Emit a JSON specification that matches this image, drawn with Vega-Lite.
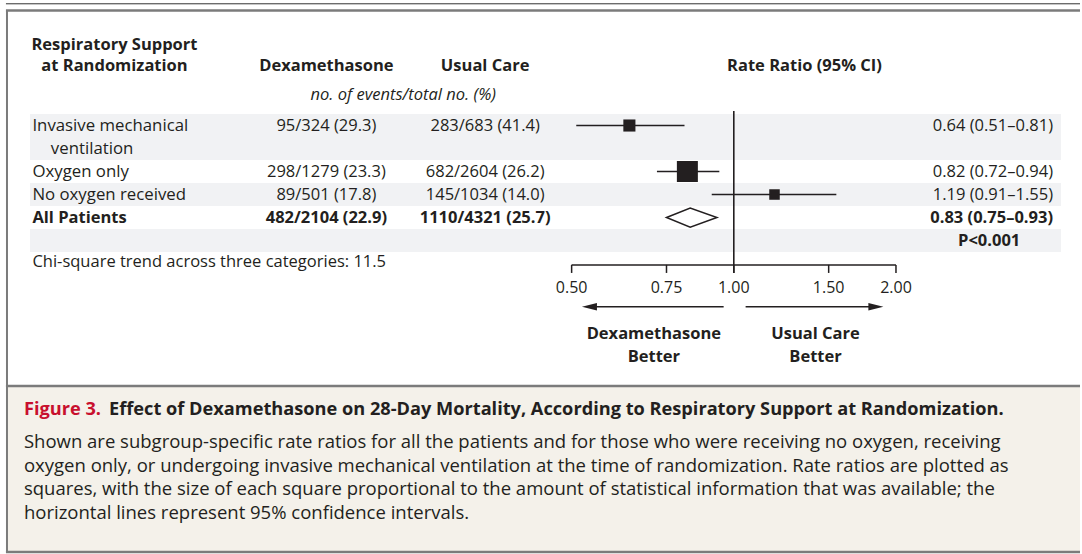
{
  "$schema": "https://vega.github.io/schema/vega-lite/v6.json",
  "width": 1082,
  "height": 554,
  "autosize": {"type": "fit", "contains": "padding"},
  "padding": 0,
  "background": "white",
  "config": {"view": {"stroke": null}, "text": {"font": "Open Sans", "fill": "#231f20"}},
  "datasets": {
    "subgroups": [
      {"group": "Invasive mechanical ventilation", "label": "Invasive mechanical", "label2": "ventilation", "line": 5, "line2": 6, "dex": "95/324 (29.3)", "usual": "283/683 (41.4)", "rr": "0.64 (0.51–0.81)", "est": 0.64, "lo": 0.51, "hi": 0.81, "info": 71.8, "overall": false},
      {"group": "Oxygen only", "label": "Oxygen only", "line": 7, "dex": "298/1279 (23.3)", "usual": "682/2604 (26.2)", "rr": "0.82 (0.72–0.94)", "est": 0.82, "lo": 0.72, "hi": 0.94, "info": 216.3, "overall": false},
      {"group": "No oxygen received", "label": "No oxygen received", "line": 8, "dex": "89/501 (17.8)", "usual": "145/1034 (14.0)", "rr": "1.19 (0.91–1.55)", "est": 1.19, "lo": 0.91, "hi": 1.55, "info": 54.2, "overall": false},
      {"group": "All Patients", "label": "All Patients", "line": 9, "dex": "482/2104 (22.9)", "usual": "1110/4321 (25.7)", "rr": "0.83 (0.75–0.93)", "est": 0.83, "lo": 0.75, "hi": 0.93, "overall": true, "p": "P<0.001", "pline": 10}
    ],
    "ticks": [
      {"v": 0.5, "label": "0.50"},
      {"v": 0.75, "label": "0.75"},
      {"v": 1, "label": "1.00"},
      {"v": 1.5, "label": "1.50"},
      {"v": 2, "label": "2.00"}
    ],
    "bands": [
      {"from": 4.5, "to": 6.5},
      {"from": 7.5, "to": 8.5},
      {"from": 9.5, "to": 10.5}
    ],
    "caption": [
      {"line": 18.78, "text": "Shown are subgroup-specific rate ratios for all the patients and for those who were receiving no oxygen, receiving\noxygen only, or undergoing invasive mechanical ventilation at the time of randomization. Rate ratios are plotted as\nsquares, with the size of each square proportional to the amount of statistical information that was available; the\nhorizontal lines represent 95% confidence intervals."}
    ]
  },
  "resolve": {"scale": {"x": "independent"}},
  "layer": [
    {
      "layer": [
        {
          "data": {"values": [{"part": "caption panel", "top": 16.33, "bottom": 23.55}]},
          "mark": {"type": "rect", "fill": "#f4f1ea"},
          "encoding": {
            "x": {"datum": 0.74, "type": "quantitative", "scale": {"domain": [0, 100], "nice": false, "zero": false}, "axis": null},
            "x2": {"datum": 100},
            "y": {"field": "top", "type": "quantitative", "scale": {"domain": [-0.457, 23.63], "nice": false, "zero": false, "reverse": true}, "axis": null},
            "y2": {"field": "bottom"}
          }
        },
        {
          "data": {"name": "bands"},
          "mark": {"type": "rect", "fill": "#f1f2f4"},
          "encoding": {
            "x": {"datum": 2.773, "type": "quantitative", "scale": {"domain": [0, 100], "nice": false, "zero": false}, "axis": null},
            "x2": {"datum": 98.244},
            "y": {"field": "from", "type": "quantitative", "scale": {"domain": [-0.457, 23.63], "nice": false, "zero": false, "reverse": true}, "axis": null},
            "y2": {"field": "to"}
          }
        },
        {
          "data": {"values": [{"part": "top rule", "at": -0.292}]},
          "mark": {"type": "rule", "stroke": "#333333", "strokeWidth": 1},
          "encoding": {
            "x": {"datum": 0.55, "type": "quantitative", "scale": {"domain": [0, 100], "nice": false, "zero": false}, "axis": null},
            "x2": {"datum": 100},
            "y": {"field": "at", "type": "quantitative", "scale": {"domain": [-0.457, 23.63], "nice": false, "zero": false, "reverse": true}, "axis": null}
          }
        },
        {
          "data": {"values": [{"part": "frame top", "at": 0.0}, {"part": "caption separator", "at": 16.33}, {"part": "frame bottom", "at": 23.54}]},
          "mark": {"type": "rule", "stroke": "#7b7b7b", "strokeWidth": 2.5},
          "encoding": {
            "x": {"datum": 0.55, "type": "quantitative", "scale": {"domain": [0, 100], "nice": false, "zero": false}, "axis": null},
            "x2": {"datum": 100},
            "y": {"field": "at", "type": "quantitative", "scale": {"domain": [-0.457, 23.63], "nice": false, "zero": false, "reverse": true}, "axis": null}
          }
        },
        {
          "data": {"values": [{"part": "frame left", "top": 0.0, "bottom": 23.58}]},
          "mark": {"type": "rule", "stroke": "#7b7b7b", "strokeWidth": 2},
          "encoding": {
            "x": {"datum": 0.647, "type": "quantitative", "scale": {"domain": [0, 100], "nice": false, "zero": false}, "axis": null},
            "y": {"field": "top", "type": "quantitative", "scale": {"domain": [-0.457, 23.63], "nice": false, "zero": false, "reverse": true}, "axis": null},
            "y2": {"field": "bottom"}
          }
        }
      ]
    },
    {
      "layer": [
        {
          "data": {"values": [{"ref": 1, "top": 4.37, "bottom": 11.41}]},
          "mark": {"type": "rule", "stroke": "#231f20", "strokeWidth": 1.6},
          "encoding": {
            "x": {"field": "ref", "type": "quantitative", "scale": {"type": "log", "domain": [0.04344, 4.3916], "nice": false}, "axis": null},
            "y": {"field": "top", "type": "quantitative", "scale": {"domain": [-0.457, 23.63], "nice": false, "zero": false, "reverse": true}, "axis": null},
            "y2": {"field": "bottom"}
          }
        },
        {
          "data": {"name": "subgroups"},
          "transform": [{"filter": "!datum.overall"}],
          "mark": {"type": "rule", "stroke": "#231f20", "strokeWidth": 1.5},
          "encoding": {
            "x": {"field": "lo", "type": "quantitative", "scale": {"type": "log", "domain": [0.04344, 4.3916], "nice": false}, "axis": null},
            "x2": {"field": "hi"},
            "y": {"field": "line", "type": "quantitative", "scale": {"domain": [-0.457, 23.63], "nice": false, "zero": false, "reverse": true}, "axis": null}
          }
        },
        {
          "data": {"name": "subgroups"},
          "transform": [{"filter": "!datum.overall"}],
          "mark": {"type": "point", "shape": "square", "filled": true, "fill": "#231f20", "opacity": 1, "strokeWidth": 0},
          "encoding": {
            "x": {"field": "est", "type": "quantitative", "scale": {"type": "log", "domain": [0.04344, 4.3916], "nice": false}, "axis": null},
            "y": {"field": "line", "type": "quantitative", "scale": {"domain": [-0.457, 23.63], "nice": false, "zero": false, "reverse": true}, "axis": null},
            "size": {"field": "info", "type": "quantitative", "scale": {"type": "linear", "domain": [0, 216.3], "range": [0, 441]}, "legend": null}
          }
        },
        {
          "data": {"name": "subgroups"},
          "transform": [{"filter": "datum.overall"}],
          "mark": {"type": "point", "shape": "M-0.94,0L0,-0.38L1.06,0L0,0.38Z", "size": 2540, "filled": false, "fill": "white", "stroke": "#231f20", "strokeWidth": 1.5, "opacity": 1},
          "encoding": {
            "x": {"field": "est", "type": "quantitative", "scale": {"type": "log", "domain": [0.04344, 4.3916], "nice": false}, "axis": null},
            "y": {"field": "line", "type": "quantitative", "scale": {"domain": [-0.457, 23.63], "nice": false, "zero": false, "reverse": true}, "axis": null}
          }
        },
        {
          "data": {"values": [{"from": 0.5, "to": 2, "at": 11.06}]},
          "mark": {"type": "rule", "stroke": "#231f20", "strokeWidth": 1.5},
          "encoding": {
            "x": {"field": "from", "type": "quantitative", "scale": {"type": "log", "domain": [0.04344, 4.3916], "nice": false}, "axis": null},
            "x2": {"field": "to"},
            "y": {"field": "at", "type": "quantitative", "scale": {"domain": [-0.457, 23.63], "nice": false, "zero": false, "reverse": true}, "axis": null}
          }
        },
        {
          "data": {"name": "ticks"},
          "mark": {"type": "rule", "stroke": "#231f20", "strokeWidth": 1.5},
          "encoding": {
            "x": {"field": "v", "type": "quantitative", "scale": {"type": "log", "domain": [0.04344, 4.3916], "nice": false}, "axis": null},
            "y": {"datum": 11.06, "type": "quantitative", "scale": {"domain": [-0.457, 23.63], "nice": false, "zero": false, "reverse": true}, "axis": null},
            "y2": {"datum": 11.41}
          }
        },
        {
          "data": {"name": "ticks"},
          "mark": {"type": "text", "font": "Open Sans", "fontSize": 16, "align": "center", "baseline": "middle", "fill": "#231f20"},
          "encoding": {
            "x": {"field": "v", "type": "quantitative", "scale": {"type": "log", "domain": [0.04344, 4.3916], "nice": false}, "axis": null},
            "y": {"datum": 12.05, "type": "quantitative", "scale": {"domain": [-0.457, 23.63], "nice": false, "zero": false, "reverse": true}, "axis": null},
            "text": {"field": "label"}
          }
        },
        {
          "data": {"values": [{"favours": "Dexamethasone", "from": 0.545, "to": 0.9575}, {"favours": "Usual Care", "from": 1.0518, "to": 1.83}]},
          "mark": {"type": "rule", "stroke": "#231f20", "strokeWidth": 1.5},
          "encoding": {
            "x": {"field": "from", "type": "quantitative", "scale": {"type": "log", "domain": [0.04344, 4.3916], "nice": false}, "axis": null},
            "x2": {"field": "to"},
            "y": {"datum": 12.88, "type": "quantitative", "scale": {"domain": [-0.457, 23.63], "nice": false, "zero": false, "reverse": true}, "axis": null}
          }
        },
        {
          "data": {"values": [{"favours": "Dexamethasone", "tip": 0.5395}]},
          "mark": {"type": "point", "shape": "M-1,0L1,-0.5L1,0.5Z", "size": 225, "filled": true, "fill": "#231f20", "opacity": 1, "strokeWidth": 0},
          "encoding": {
            "x": {"field": "tip", "type": "quantitative", "scale": {"type": "log", "domain": [0.04344, 4.3916], "nice": false}, "axis": null},
            "y": {"datum": 12.88, "type": "quantitative", "scale": {"domain": [-0.457, 23.63], "nice": false, "zero": false, "reverse": true}, "axis": null}
          }
        },
        {
          "data": {"values": [{"favours": "Usual Care", "tip": 1.8354}]},
          "mark": {"type": "point", "shape": "M1,0L-1,-0.5L-1,0.5Z", "size": 225, "filled": true, "fill": "#231f20", "opacity": 1, "strokeWidth": 0},
          "encoding": {
            "x": {"field": "tip", "type": "quantitative", "scale": {"type": "log", "domain": [0.04344, 4.3916], "nice": false}, "axis": null},
            "y": {"datum": 12.88, "type": "quantitative", "scale": {"domain": [-0.457, 23.63], "nice": false, "zero": false, "reverse": true}, "axis": null}
          }
        }
      ]
    },
    {
      "layer": [
        {
          "data": {"values": [{"text": "Respiratory Support", "line": 1.5}, {"text": "at Randomization", "line": 2.41}]},
          "mark": {"type": "text", "font": "Open Sans", "fontSize": 16.5, "fontWeight": "bold", "align": "center", "baseline": "middle", "fill": "#231f20"},
          "encoding": {
            "x": {"datum": 10.6, "type": "quantitative", "scale": {"domain": [0, 100], "nice": false, "zero": false}, "axis": null},
            "y": {"field": "line", "type": "quantitative", "scale": {"domain": [-0.457, 23.63], "nice": false, "zero": false, "reverse": true}, "axis": null},
            "text": {"field": "text"}
          }
        },
        {
          "data": {"values": [{"text": "Dexamethasone", "line": 2.41}]},
          "mark": {"type": "text", "font": "Open Sans", "fontSize": 16.5, "fontWeight": "bold", "align": "center", "baseline": "middle", "fill": "#231f20"},
          "encoding": {
            "x": {"datum": 30.22, "type": "quantitative", "scale": {"domain": [0, 100], "nice": false, "zero": false}, "axis": null},
            "y": {"field": "line", "type": "quantitative", "scale": {"domain": [-0.457, 23.63], "nice": false, "zero": false, "reverse": true}, "axis": null},
            "text": {"field": "text"}
          }
        },
        {
          "data": {"values": [{"text": "Usual Care", "line": 2.41}]},
          "mark": {"type": "text", "font": "Open Sans", "fontSize": 16.5, "fontWeight": "bold", "align": "center", "baseline": "middle", "fill": "#231f20"},
          "encoding": {
            "x": {"datum": 44.92, "type": "quantitative", "scale": {"domain": [0, 100], "nice": false, "zero": false}, "axis": null},
            "y": {"field": "line", "type": "quantitative", "scale": {"domain": [-0.457, 23.63], "nice": false, "zero": false, "reverse": true}, "axis": null},
            "text": {"field": "text"}
          }
        },
        {
          "data": {"values": [{"text": "Rate Ratio (95% CI)", "line": 2.41}]},
          "mark": {"type": "text", "font": "Open Sans", "fontSize": 16.5, "fontWeight": "bold", "align": "center", "baseline": "middle", "fill": "#231f20"},
          "encoding": {
            "x": {"datum": 74.49, "type": "quantitative", "scale": {"domain": [0, 100], "nice": false, "zero": false}, "axis": null},
            "y": {"field": "line", "type": "quantitative", "scale": {"domain": [-0.457, 23.63], "nice": false, "zero": false, "reverse": true}, "axis": null},
            "text": {"field": "text"}
          }
        },
        {
          "data": {"values": [{"text": "no. of events/total no. (%)", "line": 3.67}]},
          "mark": {"type": "text", "font": "Open Sans", "fontSize": 16.5, "fontStyle": "italic", "align": "center", "baseline": "middle", "fill": "#231f20"},
          "encoding": {
            "x": {"datum": 37.34, "type": "quantitative", "scale": {"domain": [0, 100], "nice": false, "zero": false}, "axis": null},
            "y": {"field": "line", "type": "quantitative", "scale": {"domain": [-0.457, 23.63], "nice": false, "zero": false, "reverse": true}, "axis": null},
            "text": {"field": "text"}
          }
        },
        {
          "data": {"name": "subgroups"},
          "transform": [{"filter": "!datum.overall"}],
          "mark": {"type": "text", "font": "Open Sans", "fontSize": 16.8, "align": "left", "baseline": "middle", "fill": "#231f20"},
          "encoding": {
            "x": {"datum": 3.0, "type": "quantitative", "scale": {"domain": [0, 100], "nice": false, "zero": false}, "axis": null},
            "y": {"field": "line", "type": "quantitative", "scale": {"domain": [-0.457, 23.63], "nice": false, "zero": false, "reverse": true}, "axis": null},
            "text": {"field": "label"}
          }
        },
        {
          "data": {"name": "subgroups"},
          "transform": [{"filter": "isValid(datum.label2)"}],
          "mark": {"type": "text", "font": "Open Sans", "fontSize": 16.8, "align": "left", "baseline": "middle", "fill": "#231f20"},
          "encoding": {
            "x": {"datum": 4.71, "type": "quantitative", "scale": {"domain": [0, 100], "nice": false, "zero": false}, "axis": null},
            "y": {"field": "line2", "type": "quantitative", "scale": {"domain": [-0.457, 23.63], "nice": false, "zero": false, "reverse": true}, "axis": null},
            "text": {"field": "label2"}
          }
        },
        {
          "data": {"name": "subgroups"},
          "transform": [{"filter": "!datum.overall"}],
          "mark": {"type": "text", "font": "Open Sans", "fontSize": 16.5, "align": "center", "baseline": "middle", "fill": "#231f20"},
          "encoding": {
            "x": {"datum": 30.22, "type": "quantitative", "scale": {"domain": [0, 100], "nice": false, "zero": false}, "axis": null},
            "y": {"field": "line", "type": "quantitative", "scale": {"domain": [-0.457, 23.63], "nice": false, "zero": false, "reverse": true}, "axis": null},
            "text": {"field": "dex"}
          }
        },
        {
          "data": {"name": "subgroups"},
          "transform": [{"filter": "!datum.overall"}],
          "mark": {"type": "text", "font": "Open Sans", "fontSize": 16.5, "align": "center", "baseline": "middle", "fill": "#231f20"},
          "encoding": {
            "x": {"datum": 44.92, "type": "quantitative", "scale": {"domain": [0, 100], "nice": false, "zero": false}, "axis": null},
            "y": {"field": "line", "type": "quantitative", "scale": {"domain": [-0.457, 23.63], "nice": false, "zero": false, "reverse": true}, "axis": null},
            "text": {"field": "usual"}
          }
        },
        {
          "data": {"name": "subgroups"},
          "transform": [{"filter": "!datum.overall"}],
          "mark": {"type": "text", "font": "Open Sans", "fontSize": 16.5, "align": "right", "baseline": "middle", "fill": "#231f20"},
          "encoding": {
            "x": {"datum": 97.5, "type": "quantitative", "scale": {"domain": [0, 100], "nice": false, "zero": false}, "axis": null},
            "y": {"field": "line", "type": "quantitative", "scale": {"domain": [-0.457, 23.63], "nice": false, "zero": false, "reverse": true}, "axis": null},
            "text": {"field": "rr"}
          }
        },
        {
          "data": {"name": "subgroups"},
          "transform": [{"filter": "datum.overall"}],
          "mark": {"type": "text", "font": "Open Sans", "fontSize": 16.5, "fontWeight": "bold", "align": "left", "baseline": "middle", "fill": "#231f20"},
          "encoding": {
            "x": {"datum": 3.0, "type": "quantitative", "scale": {"domain": [0, 100], "nice": false, "zero": false}, "axis": null},
            "y": {"field": "line", "type": "quantitative", "scale": {"domain": [-0.457, 23.63], "nice": false, "zero": false, "reverse": true}, "axis": null},
            "text": {"field": "label"}
          }
        },
        {
          "data": {"name": "subgroups"},
          "transform": [{"filter": "datum.overall"}],
          "mark": {"type": "text", "font": "Open Sans", "fontSize": 16.5, "fontWeight": "bold", "align": "center", "baseline": "middle", "fill": "#231f20"},
          "encoding": {
            "x": {"datum": 30.22, "type": "quantitative", "scale": {"domain": [0, 100], "nice": false, "zero": false}, "axis": null},
            "y": {"field": "line", "type": "quantitative", "scale": {"domain": [-0.457, 23.63], "nice": false, "zero": false, "reverse": true}, "axis": null},
            "text": {"field": "dex"}
          }
        },
        {
          "data": {"name": "subgroups"},
          "transform": [{"filter": "datum.overall"}],
          "mark": {"type": "text", "font": "Open Sans", "fontSize": 16.5, "fontWeight": "bold", "align": "center", "baseline": "middle", "fill": "#231f20"},
          "encoding": {
            "x": {"datum": 44.92, "type": "quantitative", "scale": {"domain": [0, 100], "nice": false, "zero": false}, "axis": null},
            "y": {"field": "line", "type": "quantitative", "scale": {"domain": [-0.457, 23.63], "nice": false, "zero": false, "reverse": true}, "axis": null},
            "text": {"field": "usual"}
          }
        },
        {
          "data": {"name": "subgroups"},
          "transform": [{"filter": "datum.overall"}],
          "mark": {"type": "text", "font": "Open Sans", "fontSize": 16.5, "fontWeight": "bold", "align": "right", "baseline": "middle", "fill": "#231f20"},
          "encoding": {
            "x": {"datum": 97.5, "type": "quantitative", "scale": {"domain": [0, 100], "nice": false, "zero": false}, "axis": null},
            "y": {"field": "line", "type": "quantitative", "scale": {"domain": [-0.457, 23.63], "nice": false, "zero": false, "reverse": true}, "axis": null},
            "text": {"field": "rr"}
          }
        },
        {
          "data": {"name": "subgroups"},
          "transform": [{"filter": "datum.overall"}],
          "mark": {"type": "text", "font": "Open Sans", "fontSize": 16.5, "fontWeight": "bold", "align": "center", "baseline": "middle", "fill": "#231f20"},
          "encoding": {
            "x": {"datum": 91.59, "type": "quantitative", "scale": {"domain": [0, 100], "nice": false, "zero": false}, "axis": null},
            "y": {"field": "pline", "type": "quantitative", "scale": {"domain": [-0.457, 23.63], "nice": false, "zero": false, "reverse": true}, "axis": null},
            "text": {"field": "p"}
          }
        },
        {
          "data": {"values": [{"text": "Chi-square trend across three categories: 11.5", "line": 10.93}]},
          "mark": {"type": "text", "font": "Open Sans", "fontSize": 16.5, "align": "left", "baseline": "middle", "fill": "#231f20"},
          "encoding": {
            "x": {"datum": 3.0, "type": "quantitative", "scale": {"domain": [0, 100], "nice": false, "zero": false}, "axis": null},
            "y": {"field": "line", "type": "quantitative", "scale": {"domain": [-0.457, 23.63], "nice": false, "zero": false, "reverse": true}, "axis": null},
            "text": {"field": "text"}
          }
        },
        {
          "data": {"values": [{"text": "Dexamethasone", "line": 14.08}, {"text": "Better", "line": 15.08}]},
          "mark": {"type": "text", "font": "Open Sans", "fontSize": 16.5, "fontWeight": "bold", "align": "center", "baseline": "middle", "fill": "#231f20"},
          "encoding": {
            "x": {"datum": 60.54, "type": "quantitative", "scale": {"domain": [0, 100], "nice": false, "zero": false}, "axis": null},
            "y": {"field": "line", "type": "quantitative", "scale": {"domain": [-0.457, 23.63], "nice": false, "zero": false, "reverse": true}, "axis": null},
            "text": {"field": "text"}
          }
        },
        {
          "data": {"values": [{"text": "Usual Care", "line": 14.08}, {"text": "Better", "line": 15.08}]},
          "mark": {"type": "text", "font": "Open Sans", "fontSize": 16.5, "fontWeight": "bold", "align": "center", "baseline": "middle", "fill": "#231f20"},
          "encoding": {
            "x": {"datum": 75.51, "type": "quantitative", "scale": {"domain": [0, 100], "nice": false, "zero": false}, "axis": null},
            "y": {"field": "line", "type": "quantitative", "scale": {"domain": [-0.457, 23.63], "nice": false, "zero": false, "reverse": true}, "axis": null},
            "text": {"field": "text"}
          }
        },
        {
          "data": {"values": [{"text": "Figure 3.", "line": 17.37}]},
          "mark": {"type": "text", "font": "Open Sans", "fontSize": 18.2, "fontWeight": "bold", "align": "left", "baseline": "middle", "fill": "#c8102e"},
          "encoding": {
            "x": {"datum": 2.22, "type": "quantitative", "scale": {"domain": [0, 100], "nice": false, "zero": false}, "axis": null},
            "y": {"field": "line", "type": "quantitative", "scale": {"domain": [-0.457, 23.63], "nice": false, "zero": false, "reverse": true}, "axis": null},
            "text": {"field": "text"}
          }
        },
        {
          "data": {"values": [{"text": "Effect of Dexamethasone on 28-Day Mortality, According to Respiratory Support at Randomization.", "line": 17.37}]},
          "mark": {"type": "text", "font": "Open Sans", "fontSize": 18.2, "fontWeight": "bold", "align": "left", "baseline": "middle", "fill": "#231f20"},
          "encoding": {
            "x": {"datum": 10.1, "type": "quantitative", "scale": {"domain": [0, 100], "nice": false, "zero": false}, "axis": null},
            "y": {"field": "line", "type": "quantitative", "scale": {"domain": [-0.457, 23.63], "nice": false, "zero": false, "reverse": true}, "axis": null},
            "text": {"field": "text"}
          }
        },
        {
          "data": {"name": "caption"},
          "mark": {"type": "text", "font": "Open Sans", "fontSize": 18.5, "lineBreak": "\n", "lineHeight": 23.5, "align": "left", "baseline": "middle", "fill": "#231f20"},
          "encoding": {
            "x": {"datum": 2.22, "type": "quantitative", "scale": {"domain": [0, 100], "nice": false, "zero": false}, "axis": null},
            "y": {"field": "line", "type": "quantitative", "scale": {"domain": [-0.457, 23.63], "nice": false, "zero": false, "reverse": true}, "axis": null},
            "text": {"field": "text"}
          }
        }
      ]
    }
  ]
}
